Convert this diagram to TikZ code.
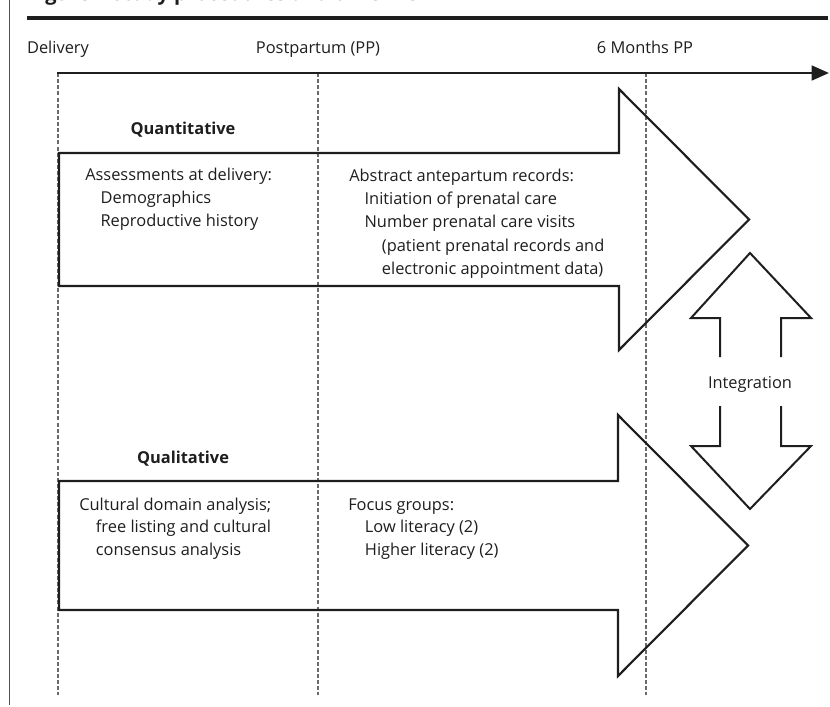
\documentclass[tikz,border=0pt]{standalone}
\usepackage{fontspec}
\setmainfont{Open Sans}
\usetikzlibrary{arrows.meta}
\definecolor{ink}{HTML}{1E1E1E}
\definecolor{dashgray}{HTML}{6A6A6A}
\definecolor{framegray}{HTML}{505050}
\begin{document}
\begin{tikzpicture}[x=0.75pt,y=-0.75pt,
  txt/.style={anchor=base west, inner sep=0pt, text=ink, font=\fontsize{12.3}{17.5}\selectfont},
  ctxt/.style={anchor=base, inner sep=0pt, text=ink, font=\fontsize{12.3}{17.5}\selectfont},
  headtxt/.style={anchor=base, inner sep=0pt, text=ink, font=\fontsize{12.3}{17.5}\selectfont\bfseries},
  guide/.style={draw=dashgray, line width=1.4pt, dash pattern=on 3pt off 1.6pt},
  bigarrow/.style={draw=ink, line width=1.6pt, line join=miter},
  intarrow/.style={draw=ink, line width=1.5pt, line join=miter}]
\useasboundingbox (0,0) rectangle (830,706);
% title (cut off at top, as in the reference)
\node[anchor=base west, inner sep=0pt, text=ink, font=\fontsize{15}{18}\selectfont\bfseries] (title) at (28,0.5) {Figure 1 Study procedures and timeline};
\draw[ink, line width=3pt] (27,18) -- (828,18);
\draw[framegray, line width=1pt] (9.5,0) -- (9.5,705);
% time labels
\node[ctxt] (tdel) at (58,54) {Delivery};
\node[ctxt] (tpp) at (318,54) {Postpartum (PP)};
\node[ctxt] (t6m) at (645,54) {6 Months PP};
% guides
\coordinate (g1t) at (58,73); \coordinate (g1b) at (58,695);
\coordinate (g2t) at (318,73); \coordinate (g2b) at (318,695);
\coordinate (g3t) at (646,73); \coordinate (g3b) at (646,695);
\draw[guide] (g1t) -- (g1b);
\draw[guide] (g2t) -- (g2b);
\draw[guide] (g3t) -- (g3b);
% timeline
\coordinate (tl0) at (57,73); \coordinate (tl1) at (829,73);
\draw[ink, line width=2pt, -{Triangle[length=13pt,width=11pt]}] (tl0) -- (tl1);
% quantitative arrow
\draw[bigarrow] (59,153) -- (619,153) -- (619,89) -- (749,219.5) -- (619,350) -- (619,286) -- (59,286) -- cycle;
\node[headtxt] (quant) at (183,135) {Quantitative};
\node[txt] (qa) at (85,180) {\vtop{\baselineskip=17.6pt
  \hbox{Assessments at delivery:}
  \hbox{\hspace*{11.5pt}Demographics}
  \hbox{\hspace*{11.5pt}Reproductive history}}};
\node[txt] (qb) at (349,181) {\vtop{\baselineskip=17.5pt
  \hbox{Abstract antepartum records:}
  \hbox{\hspace*{11.5pt}Initiation of prenatal care}
  \hbox{\hspace*{11.5pt}Number prenatal care visits}
  \hbox{\hspace*{24.5pt}(patient prenatal records and}
  \hbox{\hspace*{24.5pt}electronic appointment data)}}};
% qualitative arrow
\draw[bigarrow] (59,481) -- (618,481) -- (618,415) -- (748,545.5) -- (618,676) -- (618,610) -- (59,610) -- cycle;
\node[headtxt] (qual) at (183,463) {Qualitative};
\node[txt] (la) at (79,510) {\vtop{\baselineskip=16.9pt
  \hbox{Cultural domain analysis;}
  \hbox{\hspace*{12.5pt}free listing and cultural}
  \hbox{\hspace*{12.5pt}consensus analysis}}};
\node[txt] (lb) at (348,510) {\vtop{\baselineskip=16.9pt
  \hbox{Focus groups:}
  \hbox{\hspace*{12.5pt}Low literacy (2)}
  \hbox{\hspace*{12.5pt}Higher literacy (2)}}};
% integration
\node[ctxt] (integ) at (750,388) {Integration};
\draw[intarrow] (720,357) -- (720,318) -- (691,318) -- (750,253) -- (811,318) -- (781,318) -- (781,357);
\draw[intarrow] (720,406) -- (720,446) -- (691,446) -- (750,509) -- (811,446) -- (781,446) -- (781,406);
\end{tikzpicture}
\end{document}
